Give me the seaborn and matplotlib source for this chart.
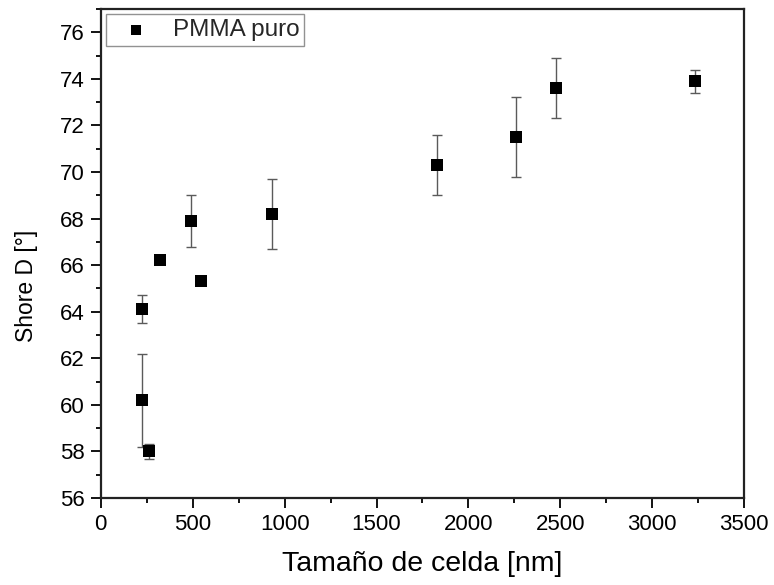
import numpy as np
import pandas as pd
import matplotlib
matplotlib.use("Agg")
import matplotlib.pyplot as plt
import seaborn as sns
from matplotlib.ticker import MultipleLocator

# Data
cell_size = [226, 227, 263, 325, 493, 545, 932, 1827, 2257, 2476, 3232]
shore_d = [64.1, 60.2, 58.0, 66.2, 67.9, 65.3, 68.2, 70.3, 71.5, 73.6, 73.9]
shore_err = [0.6, 2.0, 0.33, np.nan, 1.1, np.nan, 1.5, 1.3, 1.72, 1.29, 0.49]
series_label = "PMMA puro"
x_label = "Tamaño de celda [nm]"
y_label = "Shore D [°]"

df = pd.DataFrame({"x": cell_size, "y": shore_d, "err": shore_err})

sns.set_theme(style="ticks")
plt.rcParams["font.family"] = ["Liberation Sans", "DejaVu Sans"]

fig = plt.figure(figsize=(7.74, 5.85), dpi=100)
ax = fig.add_axes([0.1301, 0.1487, 0.8315, 0.8359])

m = df["err"].notna()
ax.errorbar(df.loc[m, "x"], df.loc[m, "y"], yerr=df.loc[m, "err"], fmt="none",
            ecolor="#5a5a5a", elinewidth=1.0, capsize=3.6, capthick=1.0, zorder=2)

sns.scatterplot(data=df, x="x", y="y", marker="s", s=64, color="black",
                edgecolor="black", linewidth=0, label=series_label, ax=ax, zorder=3)

ax.set_xlim(0, 3500)
ax.set_ylim(56, 77)
ax.xaxis.set_major_locator(MultipleLocator(500))
ax.xaxis.set_minor_locator(MultipleLocator(250))
ax.yaxis.set_major_locator(MultipleLocator(2))
ax.yaxis.set_minor_locator(MultipleLocator(1))

ax.tick_params(axis="both", which="major", direction="out", length=7.2, width=1.3,
               labelsize=16, color="black", labelcolor="black", pad=4.5)
ax.tick_params(axis="both", which="minor", direction="out", length=3.6, width=1.3,
               color="black")
ax.tick_params(top=False, right=False, which="both")

for sp in ax.spines.values():
    sp.set_linewidth(1.6)
    sp.set_color("#222222")
    sp.set_visible(True)

ax.set_xlabel(x_label, fontsize=20.5, color="black", labelpad=11)
ax.set_ylabel(y_label, fontsize=16.5, color="black")
ax.yaxis.set_label_coords(-0.097, 0.434)

leg = ax.legend(loc="upper left", fancybox=False, frameon=True, edgecolor="#777777",
                fontsize=17.5, borderaxespad=0.22, handletextpad=0.45, borderpad=0.2,
                handlelength=2.1, markerscale=0.85)
leg.get_frame().set_linewidth(1.0)

fig.savefig("out.png", dpi=100)
